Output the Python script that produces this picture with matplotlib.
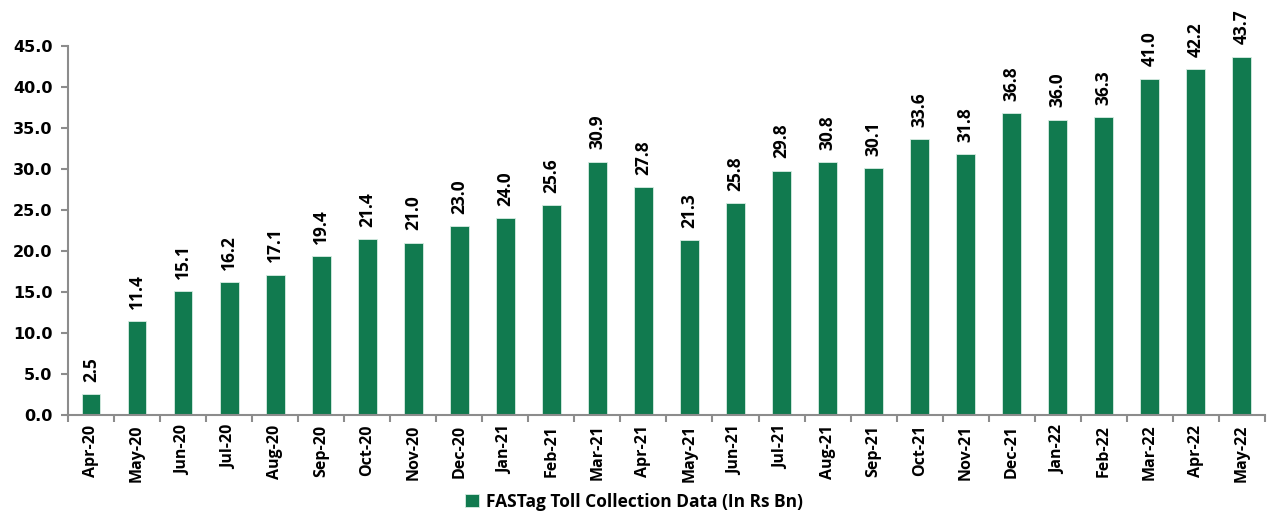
import numpy as np
import matplotlib.pyplot as plt

months = ['Apr-20', 'May-20', 'Jun-20', 'Jul-20', 'Aug-20', 'Sep-20', 'Oct-20', 'Nov-20',
          'Dec-20', 'Jan-21', 'Feb-21', 'Mar-21', 'Apr-21', 'May-21', 'Jun-21', 'Jul-21',
          'Aug-21', 'Sep-21', 'Oct-21', 'Nov-21', 'Dec-21', 'Jan-22', 'Feb-22', 'Mar-22',
          'Apr-22', 'May-22']
toll = [2.5, 11.4, 15.1, 16.2, 17.1, 19.4, 21.4, 21.0, 23.0, 24.0, 25.6, 30.9, 27.8, 21.3,
        25.8, 29.8, 30.8, 30.1, 33.6, 31.8, 36.8, 36.0, 36.3, 41.0, 42.2, 43.7]
yticks = [0, 5, 10, 15, 20, 25, 30, 35, 40, 45]

green = '#117A4F'
grey = '#8C8C8C'
lab_font = ['Open Sans', 'DejaVu Sans']

fig = plt.figure(figsize=(12.68, 5.11), dpi=100)
ax = fig.add_axes([0.0536, 0.188, 0.944, 0.722])

x = np.arange(len(months))
ax.bar(x, toll, width=0.41, color=green, edgecolor='#D8EDE3', linewidth=0.6,
       label='FASTag Toll Collection Data (In Rs Bn)', zorder=2)

for xi, v in zip(x, toll):
    ax.text(xi, v + 1.5, f'{v:.1f}', rotation=90, ha='center', va='bottom',
            fontsize=12.5, fontweight='bold', family=lab_font, color='black')

ax.set_xlim(-0.5, len(months) - 0.5)
ax.set_ylim(0, 45)
ax.set_yticks(yticks)
ax.set_yticklabels([f'{t:.1f}' for t in yticks], fontsize=11.5, fontweight='bold',
                   family='DejaVu Sans')

ax.set_xticks(x)
ax.set_xticklabels(months, rotation=90, fontsize=11.5, fontweight='bold', family=lab_font)
ax.set_xticks(np.arange(-0.5, len(months), 1), minor=True)
ax.tick_params(axis='x', which='major', length=0, pad=7)
ax.tick_params(axis='x', which='minor', length=5, color=grey, width=1.5)
ax.tick_params(axis='y', length=5, color=grey, width=1.5, pad=6)

for s in ['top', 'right']:
    ax.spines[s].set_visible(False)
for s in ['left', 'bottom']:
    ax.spines[s].set_color(grey)
    ax.spines[s].set_linewidth(1.5)

leg = fig.legend(loc='lower center', bbox_to_anchor=(0.5, -0.03), frameon=False,
                 prop={'family': lab_font, 'weight': 'bold', 'size': 12.5},
                 handlelength=0.8, handleheight=0.8, handletextpad=0.4)

fig.savefig('out.png', dpi=100)
